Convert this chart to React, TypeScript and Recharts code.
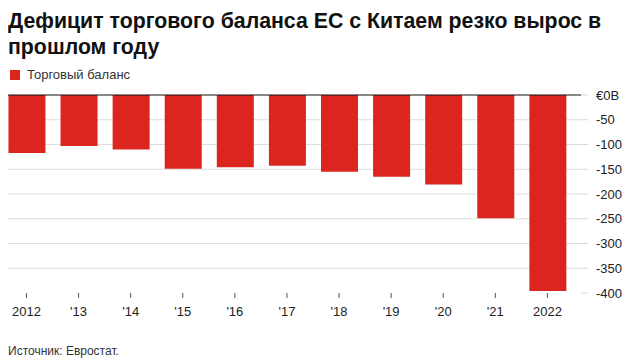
import React from 'react';
import { BarChart, Bar, XAxis, YAxis, CartesianGrid, ReferenceLine } from 'recharts';

// EU trade balance with China, € billions
const years = ['2012', "'13", "'14", "'15", "'16", "'17", "'18", "'19", "'20", "'21", '2022'];
const balance = [-117, -103, -110, -149, -146, -143, -155, -165, -181, -249, -396];
const yTicks = [0, -50, -100, -150, -200, -250, -300, -350, -400];

const data = years.map((year, i) => ({ year, balance: balance[i] }));

const RED = '#dc251f';
const FONT = '"Liberation Sans", Arial, sans-serif';

export default function App() {
  return (
    <div style={{ position: 'relative', width: 625, height: 356, fontFamily: FONT, color: '#111' }}>
      <div
        style={{
          position: 'absolute',
          top: 0,
          left: 0,
          width: 600,
          fontSize: 21.3,
          lineHeight: '26px',
          fontWeight: 700,
          color: '#111',
        }}
      >
        Дефицит торгового баланса ЕС с Китаем резко вырос в прошлом году
      </div>

      <div style={{ position: 'absolute', top: 59, left: 2, display: 'flex', alignItems: 'center', fontSize: 13, color: '#333' }}>
        <span style={{ display: 'inline-block', width: 10, height: 10, background: RED, marginRight: 7 }} />
        Торговый баланс
      </div>

      <div style={{ position: 'absolute', top: 77, left: 0 }}>
        <BarChart
          width={625}
          height={245}
          data={data}
          margin={{ top: 10, right: 0, bottom: 0, left: 0 }}
          barSize={37}
        >
          <CartesianGrid
            vertical={false}
            stroke="#dedede"
            horizontalValues={yTicks.filter((t) => t !== 0 && t !== -400)}
          />
          <XAxis
            dataKey="year"
            axisLine={false}
            tickLine={{ stroke: '#555' }}
            tickSize={5}
            tickMargin={9}
            padding={{ left: -7.55, right: 7.55 }}
            interval={0}
            height={37}
            tick={{ fontSize: 13, fill: '#222', fontFamily: FONT }}
          />
          <YAxis
            orientation="right"
            domain={[-400, 0]}
            ticks={yTicks}
            axisLine={false}
            tickLine={{ stroke: '#d6d6d6' }}
            tickSize={7}
            tickMargin={8}
            width={52}
            interval={0}
            tick={{ fontSize: 13, fill: '#222', fontFamily: FONT, textAnchor: 'start' }}
            tickFormatter={(v: number) => (v === 0 ? '€0B' : String(v))}
          />
          <Bar dataKey="balance" fill={RED} isAnimationActive={false} />
          <ReferenceLine y={0} stroke="#111" strokeWidth={1} />
        </BarChart>
      </div>

      <div style={{ position: 'absolute', top: 336, left: 0, fontSize: 12, color: '#333' }}>
        Источник: Евростат.
      </div>
    </div>
  );
}
